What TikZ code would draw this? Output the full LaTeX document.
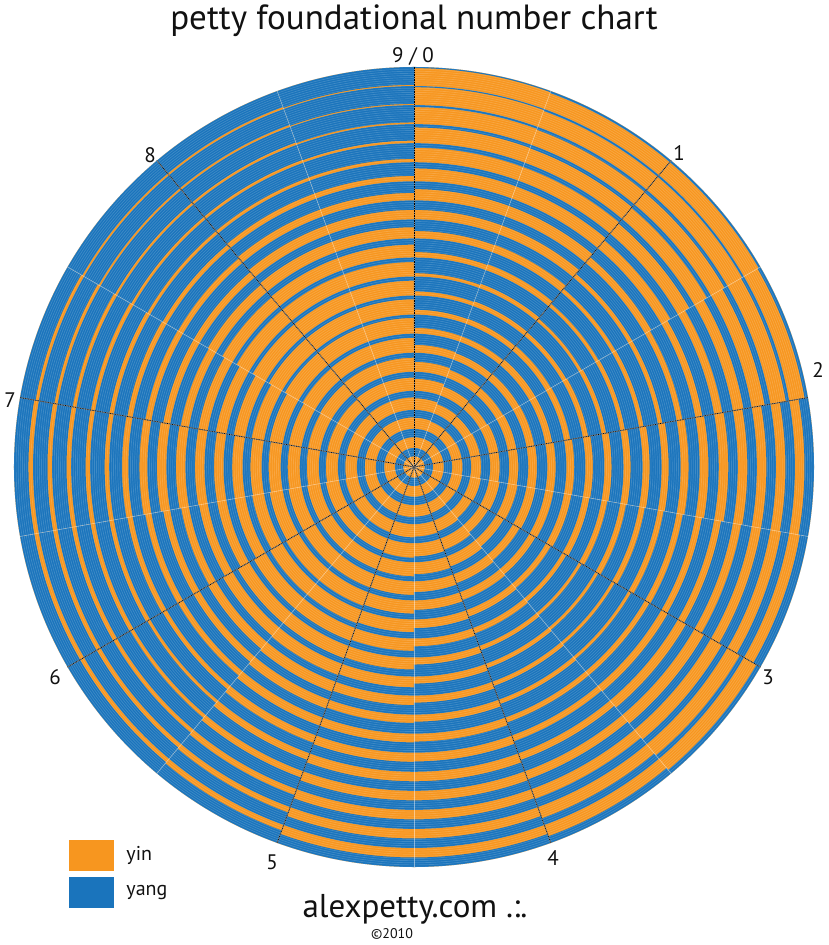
\documentclass[tikz,border=0pt]{standalone}
\usepackage{fontspec}
\setmainfont{PT Sans}
\usepackage{tikz}
\usetikzlibrary{positioning}
\definecolor{yin}{HTML}{F7961F}
\definecolor{yang}{HTML}{1A74BC}
\definecolor{ink}{HTML}{111111}
\tikzset{grain/.style={white,opacity=.16,line width=.7pt},spoke/.style={black!45,line width=.9pt},spokedot/.style={black,line width=.7pt,densely dotted},seam/.style={white,opacity=.45,line width=.6pt},num/.style={font=\fontsize{21}{21}\selectfont,text=ink,inner sep=0pt},swatch/.style={minimum width=45.7pt,minimum height=31.7pt,inner sep=0pt,draw=white,line width=.4pt},keytext/.style={font=\fontsize{20}{20}\selectfont,text=ink,inner sep=0pt}}
\def\tbl{{0.45,0.40,0.65,0.75,0.50,0.30,0.15,
0.45,0.50,0.65,0.70,0.50,0.30,0.20,
0.45,0.55,0.60,0.75,0.70,0.35,0.20,
0.45,0.50,0.60,0.70,0.70,0.55,0.25,
0.45,0.50,0.55,0.60,0.60,0.50,0.50,
0.45,0.45,0.55,0.65,0.65,0.60,0.45,
0.45,0.50,0.60,0.75,0.75,0.50,0.30,
0.45,0.40,0.55,0.70,0.70,0.60,0.40,
0.45,0.35,0.50,0.60,0.60,0.50,0.50,
0.45,0.30,0.35,0.40,0.55,0.50,0.50,
0.45,0.35,0.30,0.35,0.50,0.60,0.65,
0.45,0.35,0.30,0.35,0.60,0.75,0.70,
0.45,0.35,0.35,0.50,0.60,0.70,0.70,
0.45,0.40,0.40,0.50,0.50,0.70,0.70,
0.45,0.40,0.35,0.45,0.60,0.70,0.75,
0.45,0.40,0.25,0.30,0.60,0.75,0.80,
0.45,0.35,0.25,0.30,0.50,0.75,0.80,
0.45,0.35,0.25,0.30,0.50,0.75,0.85}}
\begin{document}
\begin{tikzpicture}[x=1pt,y=1pt]
\useasboundingbox (-414,-478) rectangle (414,467);
\coordinate (c) at (0,0);
\fill[yin] (c) circle (400);
\def\w{19.048}
\foreach \j in {0,...,17}{\foreach \i in {1,...,21}{
\pgfmathsetmacro\tq{min(max((\i-2)/3,0),5.999)}
\pgfmathtruncatemacro\kk{floor(\tq)}
\pgfmathsetmacro\uu{\tq-\kk}
\pgfmathsetmacro\vv{\tbl[7*\j+\kk]*(1-\uu)+\tbl[7*\j+\kk+1]*\uu}
\pgfmathsetmacro\fr{min(max(0.5+1.3*(\vv-0.5),0.06),0.94)}
\pgfmathsetmacro\rout{\i*\w}
\pgfmathsetmacro\rin{\rout-\fr*\w}
\pgfmathsetmacro\sa{70-20*\j}
\fill[yang] (\sa:\rin) arc[start angle=\sa,end angle=\sa+20,radius=\rin] -- (\sa+20:\rout) arc[start angle=\sa+20,end angle=\sa,radius=\rout] -- cycle;}}
\foreach \q in {1,...,189}\draw[grain] (c) circle ({\q*2.1164});
\foreach \k in {0,...,8}{
\coordinate (m\k) at (70-40*\k:400);
\draw[seam] (c) -- (m\k);
\coordinate (e\k) at (90-40*\k:400);
\draw[spoke] (c) -- (e\k);
\draw[spokedot] (c) -- (e\k);}
\node[num] (n0) at (-1,411) {9 / 0};
\foreach \k/\px/\py in {1/265/314,2/404/97,3/354/-210,4/139/-391,5/-142/-395,6/-359/-210,7/-404/67,8/-264/312}
\node[num] (n\k) at (\px,\py) {\k};
\node[font=\fontsize{35}{35}\selectfont,text=ink] (title) at (0,446) {petty foundational number chart};
\node[swatch,fill=yin] (kyin) at (-322.8,-388) {};
\node[swatch,fill=yang] (kyang) at (-322.8,-425) {};
\node[keytext,right=12pt of kyin] (tyin) {yin};
\node[keytext,right=12pt of kyang] (tyang) {yang};
\node[font=\fontsize{33}{33}\selectfont,text=ink] (site) at (1,-442) {alexpetty.com .:.};
\node[font=\fontsize{14}{14}\selectfont,text=ink] (year) at (-22,-467) {\textcopyright2010};
\end{tikzpicture}
\end{document}
